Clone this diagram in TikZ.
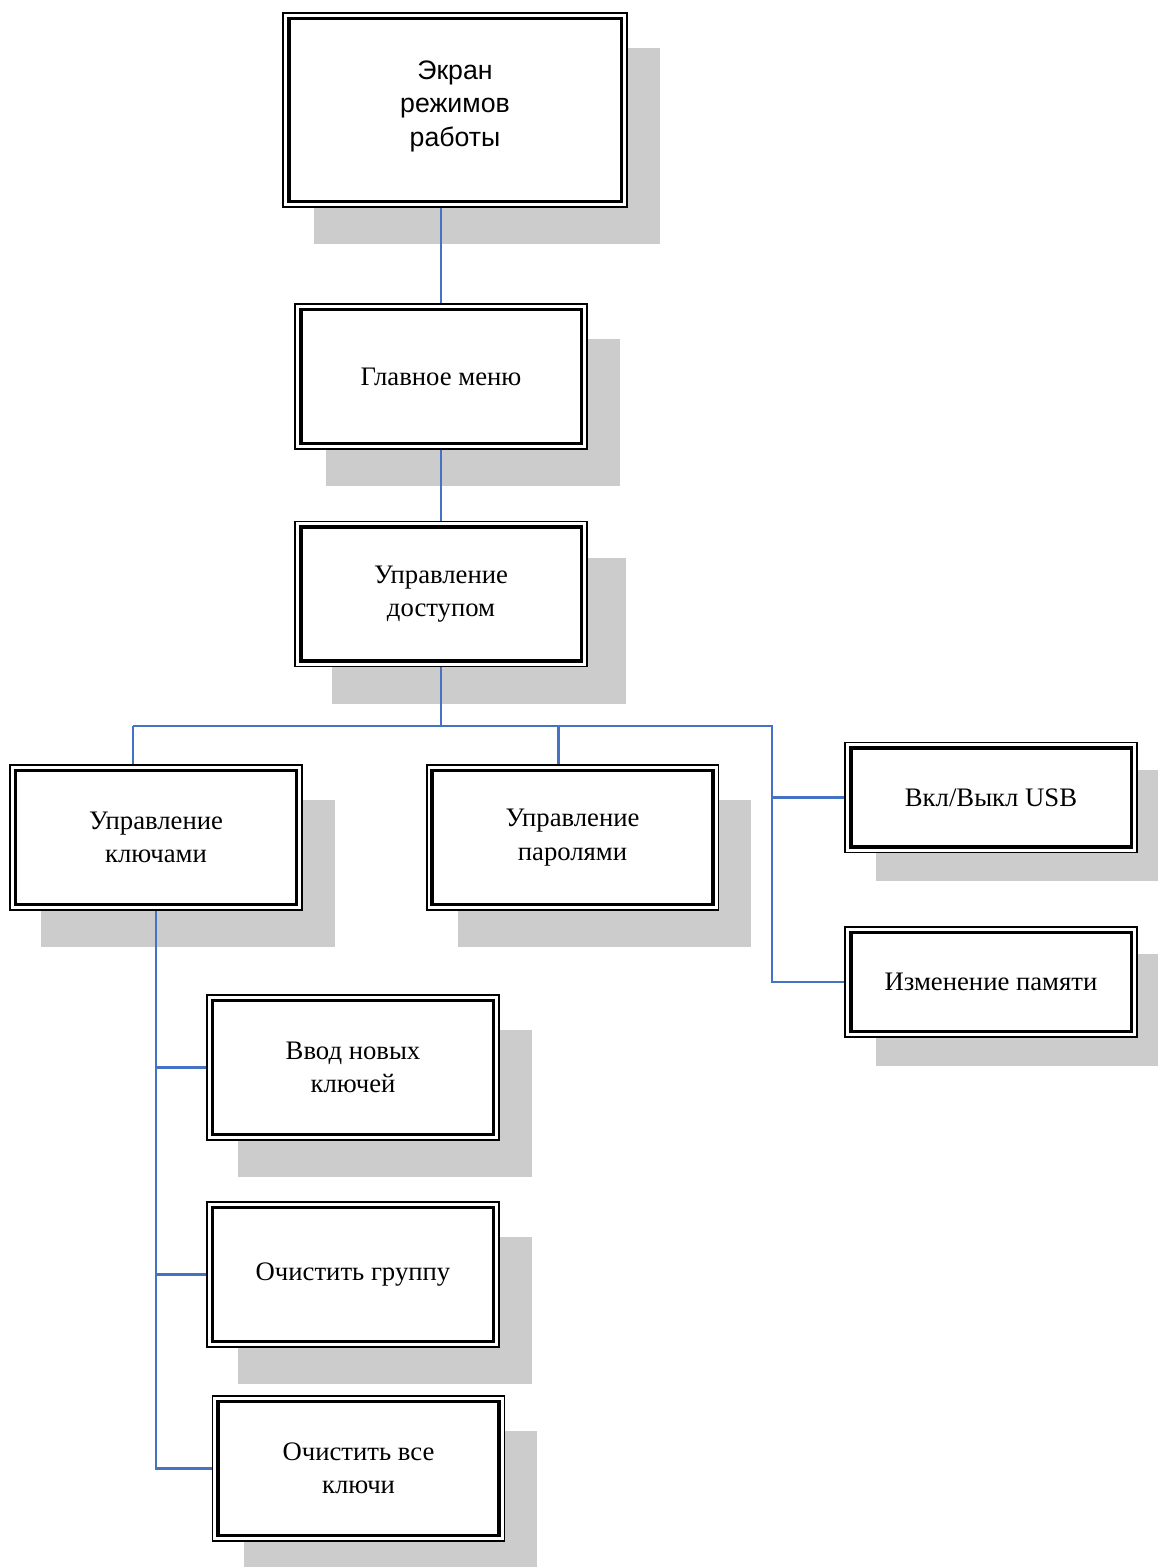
\documentclass[tikz,border=0pt]{standalone}
\usepackage{fontspec}
\setmainfont{Liberation Serif}
\setsansfont{Liberation Sans}
\usetikzlibrary{backgrounds}

\definecolor{linkblue}{HTML}{4472C4}
\definecolor{shadegray}{HTML}{CCCCCC}

\tikzset{
  menubox/.style={draw, line width=1.1pt, fill=white, align=center,
    minimum width=5.84cm, minimum height=2.9cm, inner sep=0pt,
    font=\fontsize{15.2}{19}\selectfont},
  smallbox/.style={menubox, minimum height=2.2cm},
  innerframe/.style={line width=2.2pt},
  boxshade/.style={fill=shadegray},
  link/.style={draw=linkblue, line width=1.5pt}
}

\begin{document}
\begin{tikzpicture}[x=0.02cm, y=-0.02cm]
	\useasboundingbox (0,0) rectangle (1158,1567);

	% boxes
	\node (modes) at (455,110) [menubox, minimum width=6.88cm, minimum height=3.88cm, font=\sffamily\fontsize{15.2}{19}\selectfont] {Экран\\ режимов\\ работы\\[-0.4cm]};
	\node (mainmenu) at (441,376.5) [menubox] {Главное меню};
	\node (access) at (441,594) [menubox] {Управление\\ доступом};
	\node (keys) at (156,837.5) [menubox] {Управление\\ ключами};
	\node (passwords) at (572.5,837.5) [menubox] {Управление\\ паролями};
	\node (usb) at (991,797.5) [smallbox] {Вкл/Выкл USB};
	\node (memory) at (991,982) [smallbox] {Изменение памяти};
	\node (newkeys) at (353,1067.5) [menubox] {Ввод новых\\ ключей};
	\node (cleargroup) at (353,1274.5) [menubox] {Очистить группу};
	\node (clearall) at (358.5,1468.5) [menubox] {Очистить все\\ ключи};

	% inner frame and shadow of each box
	\foreach \n/\dx/\dy in {modes/32/36, mainmenu/32/36, access/38/37, keys/32/36, passwords/32/36,
		usb/32/28, memory/32/28, newkeys/32/36, cleargroup/32/36, clearall/32/36} {
		\draw[innerframe] ([shift={(6.5,6.5)}]\n.north west) rectangle ([shift={(-6.5,-6.5)}]\n.south east);
		\begin{pgfonlayer}{background}
			\fill[boxshade] ([shift={(\dx,\dy)}]\n.north west) rectangle ([shift={(\dx,\dy)}]\n.south east);
		\end{pgfonlayer}
	}

	% connectors
	\coordinate (busL) at (133,726);
	\coordinate (busR) at (773,726);
	\coordinate (trunkR) at (772,726);

	\draw[link] (mainmenu.north) -- (mainmenu.north |- modes.south);
	\draw[link] (mainmenu.south) -- (access.north);
	\draw[link] (access.south) -- (access.south |- busL);
	\draw[link] (busL) -- (busR);
	\draw[link] (busL) -- (busL |- keys.north);
	\draw[link] ([xshift=-0.28cm]passwords.north |- busL) -- ([xshift=-0.28cm]passwords.north);
	\draw[link] (trunkR) -- (trunkR |- memory.west) -- (memory.west);
	\draw[link] (trunkR |- usb.west) -- (usb.west);
	\draw[link] (keys.south) -- (keys.south |- clearall.west) -- (clearall.west);
	\draw[link] (keys.south |- newkeys.west) -- (newkeys.west);
	\draw[link] (keys.south |- cleargroup.west) -- (cleargroup.west);
\end{tikzpicture}
\end{document}
